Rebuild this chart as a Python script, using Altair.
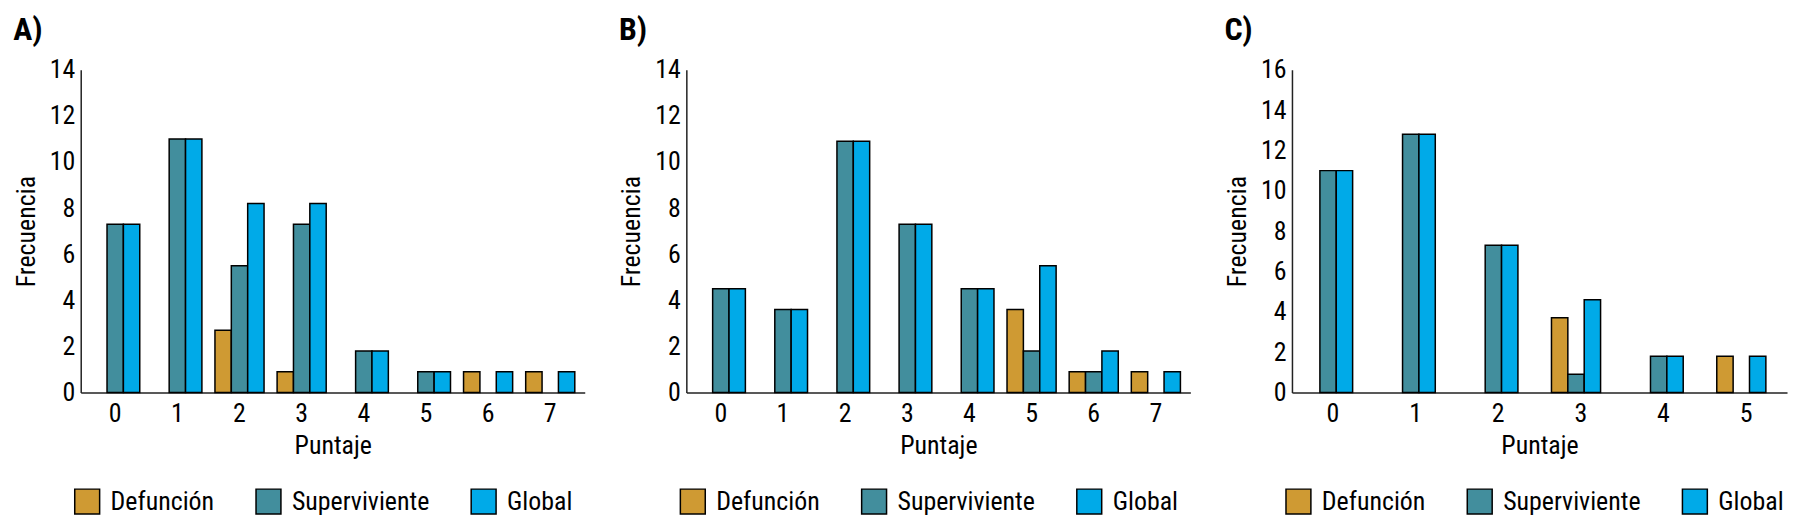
import altair as alt
import pandas as pd

FONT = "Liberation Sans Narrow, Roboto Condensed, DejaVu Sans Condensed, Liberation Sans, sans-serif"

groups = ["Defunción", "Superviviente", "Global"]
colors = ["#CF9A33", "#428E9D", "#00AAE8"]

# Panel A
cats_A = ["0", "1", "2", "3", "4", "5", "6", "7"]
def_A = [None, None, 2.7, 0.9, None, None, 0.9, 0.9]
surv_A = [7.3, 11.0, 5.5, 7.3, 1.8, 0.9, None, None]
glob_A = [7.3, 11.0, 8.2, 8.2, 1.8, 0.9, 0.9, 0.9]

# Panel B
cats_B = ["0", "1", "2", "3", "4", "5", "6", "7"]
def_B = [None, None, None, None, None, 3.6, 0.9, 0.9]
surv_B = [4.5, 3.6, 10.9, 7.3, 4.5, 1.8, 0.9, None]
glob_B = [4.5, 3.6, 10.9, 7.3, 4.5, 5.5, 1.8, 0.9]

# Panel C
cats_C = ["0", "1", "2", "3", "4", "5"]
def_C = [None, None, None, 3.7, None, 1.8]
surv_C = [11.0, 12.8, 7.3, 0.9, 1.8, None]
glob_C = [11.0, 12.8, 7.3, 4.6, 1.8, 1.8]


def make_df(cats, d, s, g):
    rows = []
    for i, c in enumerate(cats):
        for name, arr in zip(groups, [d, s, g]):
            if arr[i] is not None:
                rows.append({"Puntaje": c, "Grupo": name, "Frecuencia": arr[i]})
    return pd.DataFrame(rows)


FS = 26
AX = dict(labelFontSize=FS, titleFontSize=FS, labelFont=FONT, titleFont=FONT,
          labelColor="black", titleColor="black", titleFontWeight="normal",
          domainColor="#222", domainWidth=1.5, ticks=False)


def panel(label, cats, d, s, g, ymax, pi, po, width):
    df = make_df(cats, d, s, g)
    return alt.Chart(df).mark_bar(stroke="black", strokeWidth=1.5).encode(
        x=alt.X("Puntaje:O", title="Puntaje",
                scale=alt.Scale(domain=cats, paddingInner=pi, paddingOuter=po),
                axis=alt.Axis(labelAngle=0, labelPadding=8, titlePadding=6, **AX)),
        xOffset=alt.XOffset("Grupo:N", scale=alt.Scale(domain=groups, paddingInner=0, paddingOuter=0)),
        y=alt.Y("Frecuencia:Q", title="Frecuencia",
                scale=alt.Scale(domain=[0, ymax], nice=False),
                axis=alt.Axis(values=list(range(0, ymax + 1, 2)), grid=False,
                              labelPadding=6, titlePadding=10, **AX)),
        color=alt.Color("Grupo:N", scale=alt.Scale(domain=groups, range=colors),
                        legend=alt.Legend(orient="none", legendX=-7, legendY=420,
                                          direction="horizontal", title=None,
                                          symbolType="square", symbolSize=625,
                                          symbolStrokeColor="black", symbolStrokeWidth=1.5,
                                          symbolOpacity=1,
                                          labelFontSize=FS, labelFont=FONT, labelColor="black",
                                          columnPadding=38, labelOffset=10,
                                          labelLimit=300)),
    ).properties(
        width=width, height=324,
        title=alt.TitleParams(label, anchor="start", frame="bounds", fontSize=32,
                              font=FONT, fontWeight="bold", color="black", offset=10),
    )


A = panel("A)", cats_A, def_A, surv_A, glob_A, 14, 0.21, 0.16, 506)
B = panel("B)", cats_B, def_B, surv_B, glob_B, 14, 0.21, 0.16, 506)
C = panel("C)", cats_C, def_C, surv_C, glob_C, 16, 0.29, 0.14, 497)

chart = alt.hconcat(A, B, C, spacing=102, bounds="flush").resolve_scale(
    x="independent", y="independent", color="independent"
).resolve_legend(color="independent").configure_view(
    stroke=None
).properties(background="white")

chart.save("out.html", embed_options={"renderer": "svg", "actions": False})
